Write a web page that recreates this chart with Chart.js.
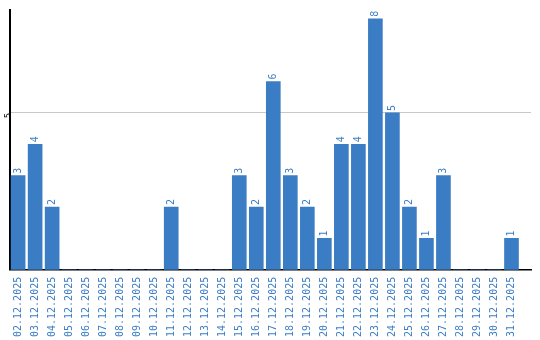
<!DOCTYPE html>
<html>
<head>
<meta charset="utf-8">
<script src="https://cdn.jsdelivr.net/npm/chart.js@4.4.1/dist/chart.umd.min.js"></script>
<style>
  body { margin: 0; background: #fff; }
  #wrap { width: 540px; height: 340px; }
</style>
</head>
<body>
<div id="wrap"><canvas id="myChart"></canvas></div>
<script>
const days = [
  "02.12.2025", "03.12.2025", "04.12.2025", "05.12.2025", "06.12.2025",
  "07.12.2025", "08.12.2025", "09.12.2025", "10.12.2025", "11.12.2025",
  "12.12.2025", "13.12.2025", "14.12.2025", "15.12.2025", "16.12.2025",
  "17.12.2025", "18.12.2025", "19.12.2025", "20.12.2025", "21.12.2025",
  "22.12.2025", "23.12.2025", "24.12.2025", "25.12.2025", "26.12.2025",
  "27.12.2025", "28.12.2025", "29.12.2025", "30.12.2025", "31.12.2025"
];
const counts = [3, 4, 2, 0, 0, 0, 0, 0, 0, 2, 0, 0, 0, 3, 2, 6, 3, 2, 1, 4, 4, 8, 5, 2, 1, 3, 0, 0, 0, 1];
const yTicks = [5];

const blue = "#3b7dc4";
const font = "'DejaVu Sans Mono', monospace";

// value labels written upwards above each bar
const barLabels = {
  id: "barLabels",
  afterDatasetsDraw(chart) {
    const ctx = chart.ctx;
    const meta = chart.getDatasetMeta(0);
    ctx.save();
    ctx.fillStyle = blue;
    ctx.font = "10px " + font;
    ctx.textAlign = "left";
    ctx.textBaseline = "middle";
    meta.data.forEach((bar, i) => {
      if (!counts[i]) return;
      ctx.save();
      ctx.translate(bar.x, bar.y - 2);
      ctx.rotate(-Math.PI / 2);
      ctx.fillText(String(counts[i]), 0, 0);
      ctx.restore();
    });
    ctx.restore();
  }
};

const data = {
  datasets: [{
    data: counts.map((v, i) => ({ x: i, y: v })),
    backgroundColor: blue,
    borderWidth: 0,
    barThickness: 14
  }]
};

const config = {
  type: "bar",
  data: data,
  options: {
    responsive: true,
    maintainAspectRatio: false,
    animation: false,
    layout: { padding: { left: -2, top: 10, right: 9, bottom: -4 } },
    plugins: { legend: { display: false }, tooltip: { enabled: false } },
    scales: {
      x: {
        type: "linear",
        offset: false,
        min: -0.5,
        max: 30.147,
        grid: { display: false, drawTicks: false },
        border: { display: true, color: "#000", width: 1.5 },
        afterBuildTicks: (scale) => {
          scale.ticks = days.map((d, i) => ({ value: i }));
        },
        ticks: {
          autoSkip: false,
          minRotation: 90,
          maxRotation: 90,
          padding: 7,
          color: blue,
          font: { family: font, size: 10 },
          callback: (v) => days[v] || ""
        }
      },
      y: {
        min: 0,
        max: 8.28,
        grid: { color: "#c8c8c8", drawTicks: false },
        border: { display: true, color: "#000", width: 2 },
        afterBuildTicks: (scale) => {
          scale.ticks = yTicks.map((v) => ({ value: v }));
        },
        ticks: {
          minRotation: 90,
          maxRotation: 90,
          padding: 1,
          color: "#000",
          font: { family: "'DejaVu Sans', sans-serif", size: 8 }
        }
      }
    }
  },
  plugins: [barLabels]
};

const myChart = new Chart(document.getElementById("myChart"), config);
</script>
</body>
</html>
